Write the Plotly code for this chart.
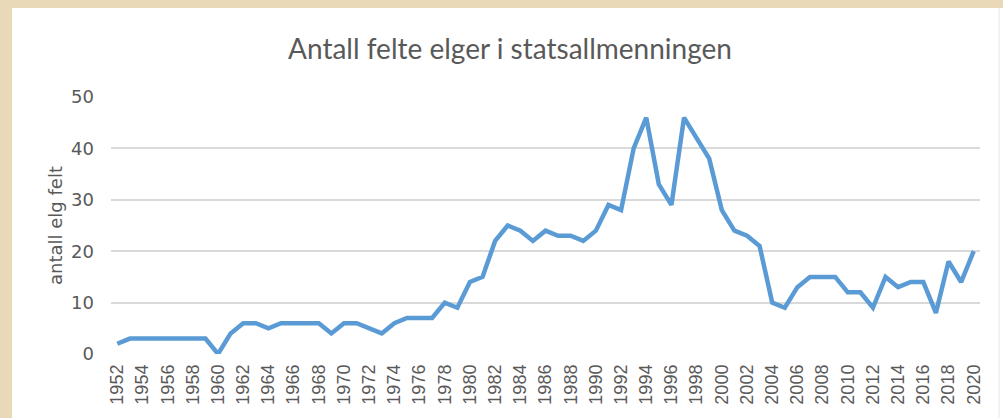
import plotly.graph_objects as go

years = list(range(1952, 2021))
felte = [2, 3, 3, 3, 3, 3, 3, 3, 0, 4,
         6, 6, 5, 6, 6, 6, 6, 4, 6, 6,
         5, 4, 6, 7, 7, 7, 10, 9, 14, 15,
         22, 25, 24, 22, 24, 23, 23, 22, 24, 29,
         28, 40, 46, 33, 29, 46, 42, 38, 28, 24,
         23, 21, 10, 9, 13, 15, 15, 15, 12, 12,
         9, 15, 13, 14, 14, 8, 18, 14, 20]
tick_years = list(range(1952, 2021, 2))

title_text = "Antall felte elger i statsallmenningen"
y_title = "antall elg felt"

W, H = 1003, 418
L, R, T, B = 111, 23, 97, 64
pw, ph = W - L - R, H - T - B

def px_x(p):
    return (p - L) / pw

def px_y(p):
    return (H - B - p) / ph

fig = go.Figure()
fig.add_trace(go.Scatter(
    x=years, y=felte, mode="lines",
    line=dict(color="#5B9BD5", width=4.5, shape="linear"),
    hoverinfo="x+y", showlegend=False,
))

# beige page border and white chart card
beige = "#E9D9B9"
fig.add_shape(type="rect", xref="paper", yref="paper",
              x0=px_x(0), x1=px_x(W), y0=px_y(0), y1=px_y(8),
              fillcolor=beige, line_width=0, layer="below")
fig.add_shape(type="rect", xref="paper", yref="paper",
              x0=px_x(0), x1=px_x(12), y0=px_y(0), y1=px_y(H),
              fillcolor=beige, line_width=0, layer="below")
fig.add_shape(type="line", xref="paper", yref="paper",
              x0=px_x(999), x1=px_x(999), y0=px_y(8), y1=px_y(H),
              line=dict(color="#E6E6E6", width=1))

fig.add_annotation(
    text=y_title, xref="paper", yref="paper",
    x=px_x(55), y=px_y(225), xanchor="center", yanchor="middle",
    textangle=-90, showarrow=False,
    font=dict(family="'DejaVu Sans', sans-serif", size=18, color="#595959"),
)

fig.update_layout(
    width=W, height=H,
    margin=dict(l=L, r=R, t=T, b=B),
    paper_bgcolor="white", plot_bgcolor="white",
    title=dict(text=title_text, x=510 / W, xref="container", xanchor="center",
               y=1 - 49 / H, yref="container", yanchor="middle",
               font=dict(family="Lato, 'Open Sans', sans-serif", size=28, color="#595959")),
    font=dict(family="'DejaVu Sans', sans-serif", color="#595959"),
)
fig.update_xaxes(
    range=[1951.5, 2020.5], tickmode="array", tickvals=tick_years,
    ticktext=[str(y) for y in tick_years], tickangle=-90,
    tickfont=dict(family="'Liberation Sans', Arial, sans-serif", size=18, color="#595959"),
    showgrid=False, zeroline=False, showline=False, ticks="",
    ticklabelstandoff=6,
)
fig.update_yaxes(
    range=[0, 50], tickvals=[0, 10, 20, 30, 40, 50],
    tickfont=dict(family="'DejaVu Sans', sans-serif", size=18, color="#595959"),
    showgrid=True, gridcolor="#D9D9D9", gridwidth=1.5,
    zeroline=False, showline=False, ticks="", ticklabelstandoff=16,
)

fig.write_html("out.html", config={"displayModeBar": False},
               post_script="document.body.style.margin='0';document.body.style.overflow='hidden';")
